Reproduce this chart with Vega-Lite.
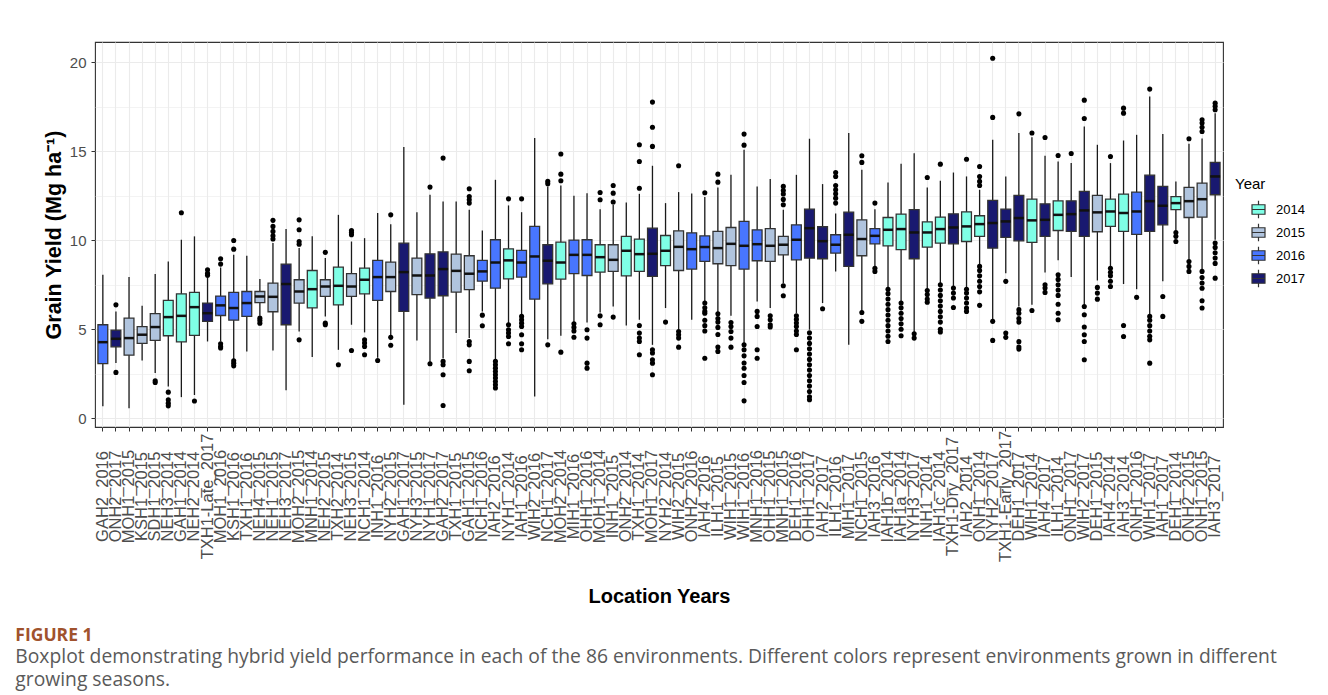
{
"$schema": "https://vega.github.io/schema/vega-lite/v6.json",
"width": 1128, "height": 385,
"padding": {"left": 15, "top": 42, "right": 0, "bottom": 5},
"autosize": {"type": "pad"},
"background": "white",
"config": {
  "font": "Liberation Sans",
  "view": {"stroke": "#333333", "strokeWidth": 1.1},
  "axis": {"domain": false, "gridColor": "#EBEBEB", "tickColor": "#333333", "labelColor": "#4D4D4D", "labelFont": "Liberation Sans", "titleFont": "Liberation Sans", "titleFontWeight": "bold", "titleColor": "#000000"}
},
"title": {"text": "FIGURE 1", "subtitle": ["Boxplot demonstrating hybrid yield performance in each of the 86 environments. Different colors represent environments grown in different", "growing seasons."], "orient": "bottom", "anchor": "start", "frame": "bounds", "offset": 20, "dx": -28, "font": "Open Sans", "fontSize": 17.5, "fontWeight": "bold", "color": "#A0522D", "subtitleFont": "Open Sans", "subtitleFontSize": 19.3, "subtitleColor": "#5A5A5A", "subtitlePadding": 4, "subtitleLineHeight": 23},
"datasets": {
"boxes": [
{"loc":"GAH2_2016","year":"2016","lo":0.66,"q1":3.06,"med":4.27,"q3":5.25,"hi":8.06},
{"loc":"ONH2_2017","year":"2017","lo":3.1,"q1":4.01,"med":4.46,"q3":4.95,"hi":6.0},
{"loc":"MOH1_2015","year":"2015","lo":0.56,"q1":3.54,"med":4.5,"q3":5.62,"hi":7.93},
{"loc":"KSH1_2015","year":"2015","lo":3.24,"q1":4.2,"med":4.69,"q3":5.15,"hi":6.32},
{"loc":"SDH1_2015","year":"2015","lo":2.53,"q1":4.37,"med":5.12,"q3":5.87,"hi":8.1},
{"loc":"NEH3_2014","year":"2014","lo":1.78,"q1":4.63,"med":5.68,"q3":6.62,"hi":8.81},
{"loc":"GAH1_2014","year":"2014","lo":1.18,"q1":4.29,"med":5.75,"q3":6.99,"hi":10.03},
{"loc":"NEH2_2014","year":"2014","lo":1.3,"q1":4.65,"med":6.24,"q3":7.07,"hi":10.22},
{"loc":"TXH1-Late_2017","year":"2017","lo":4.31,"q1":5.44,"med":5.9,"q3":6.47,"hi":7.93},
{"loc":"MOH1_2016","year":"2016","lo":4.31,"q1":5.77,"med":6.34,"q3":6.86,"hi":8.47},
{"loc":"KSH1_2016","year":"2016","lo":3.32,"q1":5.51,"med":6.19,"q3":7.07,"hi":9.18},
{"loc":"TXH1_2016","year":"2016","lo":3.75,"q1":5.72,"med":6.47,"q3":7.12,"hi":9.13},
{"loc":"NEH4_2015","year":"2015","lo":5.75,"q1":6.49,"med":6.84,"q3":7.12,"hi":7.82},
{"loc":"NEH1_2015","year":"2015","lo":3.8,"q1":5.98,"med":6.82,"q3":7.59,"hi":9.84},
{"loc":"NEH3_2017","year":"2017","lo":1.56,"q1":5.25,"med":7.54,"q3":8.66,"hi":10.63},
{"loc":"MOH2_2015","year":"2015","lo":4.87,"q1":6.47,"med":7.12,"q3":7.78,"hi":9.56},
{"loc":"MNH1_2014","year":"2014","lo":3.43,"q1":6.2,"med":7.25,"q3":8.3,"hi":10.22},
{"loc":"NEH2_2015","year":"2015","lo":5.72,"q1":6.84,"med":7.4,"q3":7.78,"hi":9.0},
{"loc":"TXH2_2014","year":"2014","lo":3.84,"q1":6.37,"med":7.44,"q3":8.49,"hi":11.43},
{"loc":"NEH3_2015","year":"2015","lo":5.25,"q1":6.84,"med":7.4,"q3":8.12,"hi":9.93},
{"loc":"NCH1_2014","year":"2014","lo":4.82,"q1":6.99,"med":7.78,"q3":8.43,"hi":10.12},
{"loc":"INH1_2016","year":"2016","lo":3.4,"q1":6.62,"med":7.93,"q3":8.87,"hi":11.53},
{"loc":"NYH2_2015","year":"2015","lo":4.59,"q1":7.12,"med":7.93,"q3":8.77,"hi":10.9},
{"loc":"GAH1_2017","year":"2017","lo":0.75,"q1":6.0,"med":8.21,"q3":9.84,"hi":15.24},
{"loc":"NYH3_2015","year":"2015","lo":4.37,"q1":6.94,"med":8.02,"q3":9.0,"hi":11.58},
{"loc":"NYH1_2017","year":"2017","lo":3.09,"q1":6.75,"med":8.02,"q3":9.24,"hi":12.56},
{"loc":"GAH2_2017","year":"2017","lo":3.37,"q1":6.88,"med":8.38,"q3":9.35,"hi":12.18},
{"loc":"TXH1_2015","year":"2015","lo":4.78,"q1":7.09,"med":8.28,"q3":9.22,"hi":12.18},
{"loc":"GAH1_2015","year":"2015","lo":4.5,"q1":7.22,"med":8.12,"q3":9.13,"hi":11.72},
{"loc":"NCH1_2016","year":"2016","lo":6.0,"q1":7.7,"med":8.25,"q3":8.87,"hi":10.55},
{"loc":"IAH2_2016","year":"2016","lo":3.28,"q1":7.31,"med":8.75,"q3":10.03,"hi":13.4},
{"loc":"NYH1_2014","year":"2014","lo":5.34,"q1":7.83,"med":8.87,"q3":9.52,"hi":11.96},
{"loc":"IAH1_2016","year":"2016","lo":5.81,"q1":7.93,"med":8.75,"q3":9.43,"hi":11.58},
{"loc":"WIH2_2016","year":"2016","lo":1.22,"q1":6.69,"med":9.09,"q3":10.78,"hi":15.75},
{"loc":"NCH1_2017","year":"2017","lo":4.44,"q1":7.55,"med":8.85,"q3":9.75,"hi":13.03},
{"loc":"MOH2_2014","year":"2014","lo":4.63,"q1":7.82,"med":8.75,"q3":9.9,"hi":13.08},
{"loc":"MIH1_2016","year":"2016","lo":5.34,"q1":8.12,"med":9.18,"q3":10.01,"hi":12.5},
{"loc":"OHH1_2016","year":"2016","lo":5.38,"q1":8.02,"med":9.18,"q3":10.03,"hi":12.65},
{"loc":"MOH1_2014","year":"2014","lo":5.94,"q1":8.21,"med":9.05,"q3":9.75,"hi":11.75},
{"loc":"INH1_2015","year":"2015","lo":6.28,"q1":8.25,"med":8.9,"q3":9.75,"hi":12.0},
{"loc":"ONH2_2014","year":"2014","lo":5.21,"q1":8.0,"med":9.41,"q3":10.22,"hi":12.13},
{"loc":"TXH1_2014","year":"2014","lo":5.53,"q1":8.25,"med":9.22,"q3":10.07,"hi":12.61},
{"loc":"MOH1_2017","year":"2017","lo":4.12,"q1":7.97,"med":9.24,"q3":10.68,"hi":14.19},
{"loc":"NYH2_2014","year":"2014","lo":6.19,"q1":8.57,"med":9.41,"q3":10.27,"hi":12.09},
{"loc":"WIH2_2015","year":"2015","lo":5.0,"q1":8.3,"med":9.63,"q3":10.53,"hi":12.71},
{"loc":"ONH2_2016","year":"2016","lo":5.53,"q1":8.38,"med":9.5,"q3":10.42,"hi":12.63},
{"loc":"IAH4_2016","year":"2016","lo":6.56,"q1":8.81,"med":9.62,"q3":10.25,"hi":12.43},
{"loc":"ILH1_2015","year":"2015","lo":5.94,"q1":8.68,"med":9.56,"q3":10.5,"hi":12.97},
{"loc":"WIH1_2015","year":"2015","lo":5.75,"q1":8.57,"med":9.8,"q3":10.72,"hi":13.68},
{"loc":"WIH1_2016","year":"2016","lo":4.18,"q1":8.38,"med":9.69,"q3":11.06,"hi":15.09},
{"loc":"MNH1_2016","year":"2016","lo":6.56,"q1":8.85,"med":9.78,"q3":10.59,"hi":13.03},
{"loc":"OHH1_2015","year":"2015","lo":6.19,"q1":8.81,"med":9.69,"q3":10.65,"hi":13.44},
{"loc":"MNH1_2015","year":"2015","lo":7.59,"q1":9.18,"med":9.75,"q3":10.22,"hi":11.72},
{"loc":"DEH1_2016","year":"2016","lo":5.9,"q1":8.9,"med":10.03,"q3":10.87,"hi":13.68},
{"loc":"OHH1_2017","year":"2017","lo":4.97,"q1":9.0,"med":10.68,"q3":11.75,"hi":15.71},
{"loc":"IAH2_2017","year":"2017","lo":6.47,"q1":8.96,"med":9.95,"q3":10.76,"hi":13.16},
{"loc":"ILH1_2016","year":"2016","lo":8.25,"q1":9.28,"med":9.75,"q3":10.31,"hi":11.5},
{"loc":"MIH1_2017","year":"2017","lo":4.12,"q1":8.53,"med":10.31,"q3":11.58,"hi":16.03},
{"loc":"NCH1_2015","year":"2015","lo":6.0,"q1":9.13,"med":10.07,"q3":11.15,"hi":13.96},
{"loc":"IAH3_2016","year":"2016","lo":8.53,"q1":9.8,"med":10.25,"q3":10.65,"hi":11.75},
{"loc":"IAH1b_2014","year":"2014","lo":7.31,"q1":9.69,"med":10.59,"q3":11.28,"hi":13.25},
{"loc":"IAH1a_2014","year":"2014","lo":6.56,"q1":9.47,"med":10.63,"q3":11.47,"hi":14.3},
{"loc":"NYH3_2017","year":"2017","lo":4.82,"q1":8.96,"med":10.44,"q3":11.72,"hi":14.9},
{"loc":"INH1_2014","year":"2014","lo":7.25,"q1":9.62,"med":10.44,"q3":11.04,"hi":12.97},
{"loc":"IAH1c_2014","year":"2014","lo":7.59,"q1":9.84,"med":10.63,"q3":11.3,"hi":13.35},
{"loc":"TXH1-Dry_2017","year":"2017","lo":7.4,"q1":9.8,"med":10.72,"q3":11.49,"hi":13.81},
{"loc":"IAH2_2014","year":"2014","lo":7.37,"q1":9.93,"med":10.78,"q3":11.6,"hi":13.59},
{"loc":"ONH1_2014","year":"2014","lo":8.62,"q1":10.22,"med":10.91,"q3":11.38,"hi":12.84},
{"loc":"NYH2_2017","year":"2017","lo":5.53,"q1":9.56,"med":10.97,"q3":12.24,"hi":15.65},
{"loc":"TXH1-Early_2017","year":"2017","lo":8.15,"q1":10.16,"med":11.06,"q3":11.75,"hi":13.59},
{"loc":"DEH1_2017","year":"2017","lo":6.28,"q1":9.97,"med":11.25,"q3":12.52,"hi":16.03},
{"loc":"WIH1_2014","year":"2014","lo":6.37,"q1":9.88,"med":11.12,"q3":12.31,"hi":15.8},
{"loc":"IAH4_2017","year":"2017","lo":8.19,"q1":10.22,"med":11.15,"q3":12.05,"hi":14.75},
{"loc":"ILH1_2014","year":"2014","lo":8.87,"q1":10.55,"med":11.43,"q3":12.22,"hi":14.43},
{"loc":"ONH1_2017","year":"2017","lo":7.93,"q1":10.5,"med":11.47,"q3":12.22,"hi":14.34},
{"loc":"WIH2_2017","year":"2017","lo":6.37,"q1":10.22,"med":11.68,"q3":12.75,"hi":16.4},
{"loc":"DEH1_2015","year":"2015","lo":7.74,"q1":10.48,"med":11.57,"q3":12.52,"hi":15.37},
{"loc":"IAH4_2014","year":"2014","lo":8.53,"q1":10.78,"med":11.62,"q3":12.31,"hi":14.34},
{"loc":"IAH3_2014","year":"2014","lo":7.54,"q1":10.5,"med":11.53,"q3":12.6,"hi":15.61},
{"loc":"ONH1_2016","year":"2016","lo":7.25,"q1":10.33,"med":11.62,"q3":12.71,"hi":15.93},
{"loc":"WIH1_2017","year":"2017","lo":5.81,"q1":10.5,"med":12.2,"q3":13.66,"hi":18.09},
{"loc":"IAH1_2017","year":"2017","lo":7.69,"q1":10.87,"med":11.94,"q3":13.03,"hi":15.97},
{"loc":"DEH1_2014","year":"2014","lo":10.53,"q1":11.72,"med":12.09,"q3":12.46,"hi":13.31},
{"loc":"ONH2_2015","year":"2015","lo":8.9,"q1":11.28,"med":12.2,"q3":12.97,"hi":15.43},
{"loc":"ONH1_2015","year":"2015","lo":8.34,"q1":11.3,"med":12.31,"q3":13.21,"hi":15.73},
{"loc":"IAH3_2017","year":"2017","lo":10.03,"q1":12.56,"med":13.59,"q3":14.38,"hi":17.15}
],
"outs": [
{"loc":"ONH2_2017","v":6.37},{"loc":"ONH2_2017","v":2.57},
{"loc":"SDH1_2015","v":2.1},{"loc":"SDH1_2015","v":2.0},
{"loc":"NEH3_2014","v":1.46},{"loc":"NEH3_2014","v":1.03},{"loc":"NEH3_2014","v":0.84},{"loc":"NEH3_2014","v":0.69},
{"loc":"GAH1_2014","v":11.55},
{"loc":"NEH2_2014","v":0.96},
{"loc":"TXH1-Late_2017","v":8.34},{"loc":"TXH1-Late_2017","v":8.15},{"loc":"TXH1-Late_2017","v":8.04},
{"loc":"MOH1_2016","v":8.96},{"loc":"MOH1_2016","v":8.66},{"loc":"MOH1_2016","v":4.18},{"loc":"MOH1_2016","v":4.03},{"loc":"MOH1_2016","v":3.94},
{"loc":"KSH1_2016","v":9.99},{"loc":"KSH1_2016","v":9.5},{"loc":"KSH1_2016","v":3.22},{"loc":"KSH1_2016","v":3.09},{"loc":"KSH1_2016","v":2.94},
{"loc":"NEH4_2015","v":5.62},{"loc":"NEH4_2015","v":5.49},{"loc":"NEH4_2015","v":5.34},
{"loc":"NEH1_2015","v":11.12},{"loc":"NEH1_2015","v":10.78},{"loc":"NEH1_2015","v":10.5},{"loc":"NEH1_2015","v":10.25},{"loc":"NEH1_2015","v":10.07},
{"loc":"MOH2_2015","v":11.15},{"loc":"MOH2_2015","v":10.59},{"loc":"MOH2_2015","v":9.93},{"loc":"MOH2_2015","v":9.78},{"loc":"MOH2_2015","v":4.4},
{"loc":"NEH2_2015","v":9.32},{"loc":"NEH2_2015","v":5.34},{"loc":"NEH2_2015","v":5.25},
{"loc":"TXH2_2014","v":3.0},
{"loc":"NEH3_2015","v":10.55},{"loc":"NEH3_2015","v":10.44},{"loc":"NEH3_2015","v":10.31},{"loc":"NEH3_2015","v":3.8},
{"loc":"NCH1_2014","v":4.4},{"loc":"NCH1_2014","v":4.22},{"loc":"NCH1_2014","v":4.03},{"loc":"NCH1_2014","v":3.56},
{"loc":"INH1_2016","v":3.24},
{"loc":"NYH2_2015","v":11.43},{"loc":"NYH2_2015","v":4.54},{"loc":"NYH2_2015","v":4.1},
{"loc":"NYH1_2017","v":12.99},{"loc":"NYH1_2017","v":3.06},
{"loc":"GAH2_2017","v":14.62},{"loc":"GAH2_2017","v":3.19},{"loc":"GAH2_2017","v":3.0},{"loc":"GAH2_2017","v":2.44},{"loc":"GAH2_2017","v":0.71},
{"loc":"GAH1_2015","v":12.9},{"loc":"GAH1_2015","v":12.46},{"loc":"GAH1_2015","v":12.28},{"loc":"GAH1_2015","v":12.09},{"loc":"GAH1_2015","v":4.31},{"loc":"GAH1_2015","v":4.12},{"loc":"GAH1_2015","v":3.19},{"loc":"GAH1_2015","v":2.66},
{"loc":"NCH1_2016","v":5.79},{"loc":"NCH1_2016","v":5.19},
{"loc":"IAH2_2016","v":3.19},{"loc":"IAH2_2016","v":3.0},{"loc":"IAH2_2016","v":2.81},{"loc":"IAH2_2016","v":2.62},{"loc":"IAH2_2016","v":2.44},{"loc":"IAH2_2016","v":2.25},{"loc":"IAH2_2016","v":2.06},{"loc":"IAH2_2016","v":1.87},{"loc":"IAH2_2016","v":1.69},
{"loc":"NYH1_2014","v":12.33},{"loc":"NYH1_2014","v":5.25},{"loc":"NYH1_2014","v":4.97},{"loc":"NYH1_2014","v":4.78},{"loc":"NYH1_2014","v":4.59},{"loc":"NYH1_2014","v":4.18},
{"loc":"IAH1_2016","v":12.33},{"loc":"IAH1_2016","v":5.72},{"loc":"IAH1_2016","v":5.53},{"loc":"IAH1_2016","v":5.34},{"loc":"IAH1_2016","v":5.15},{"loc":"IAH1_2016","v":4.69},{"loc":"IAH1_2016","v":4.18},{"loc":"IAH1_2016","v":3.84},
{"loc":"NCH1_2017","v":13.31},{"loc":"NCH1_2017","v":13.18},{"loc":"NCH1_2017","v":4.12},
{"loc":"MOH2_2014","v":14.85},{"loc":"MOH2_2014","v":13.72},{"loc":"MOH2_2014","v":13.35},{"loc":"MOH2_2014","v":3.71},
{"loc":"MIH1_2016","v":5.3},{"loc":"MIH1_2016","v":5.1},{"loc":"MIH1_2016","v":4.9},{"loc":"MIH1_2016","v":4.55},
{"loc":"OHH1_2016","v":4.97},{"loc":"OHH1_2016","v":4.5},{"loc":"OHH1_2016","v":3.09},{"loc":"OHH1_2016","v":2.81},
{"loc":"MOH1_2014","v":12.69},{"loc":"MOH1_2014","v":12.28},{"loc":"MOH1_2014","v":5.75},{"loc":"MOH1_2014","v":5.25},
{"loc":"INH1_2015","v":13.08},{"loc":"INH1_2015","v":12.65},{"loc":"INH1_2015","v":12.15},{"loc":"INH1_2015","v":5.68},
{"loc":"TXH1_2014","v":15.37},{"loc":"TXH1_2014","v":14.43},{"loc":"TXH1_2014","v":12.93},{"loc":"TXH1_2014","v":5.21},{"loc":"TXH1_2014","v":4.78},{"loc":"TXH1_2014","v":4.5},{"loc":"TXH1_2014","v":4.31},{"loc":"TXH1_2014","v":3.56},
{"loc":"MOH1_2017","v":17.77},{"loc":"MOH1_2017","v":16.36},{"loc":"MOH1_2017","v":15.28},{"loc":"MOH1_2017","v":3.84},{"loc":"MOH1_2017","v":3.66},{"loc":"MOH1_2017","v":3.28},{"loc":"MOH1_2017","v":3.09},{"loc":"MOH1_2017","v":2.44},
{"loc":"NYH2_2014","v":5.4},
{"loc":"WIH2_2015","v":14.19},{"loc":"WIH2_2015","v":4.87},{"loc":"WIH2_2015","v":4.69},{"loc":"WIH2_2015","v":4.5},{"loc":"WIH2_2015","v":3.99},
{"loc":"IAH4_2016","v":12.67},{"loc":"IAH4_2016","v":6.47},{"loc":"IAH4_2016","v":6.2},{"loc":"IAH4_2016","v":6.0},{"loc":"IAH4_2016","v":5.9},{"loc":"IAH4_2016","v":5.5},{"loc":"IAH4_2016","v":5.2},{"loc":"IAH4_2016","v":4.9},{"loc":"IAH4_2016","v":3.37},
{"loc":"ILH1_2015","v":13.72},{"loc":"ILH1_2015","v":13.27},{"loc":"ILH1_2015","v":5.87},{"loc":"ILH1_2015","v":5.6},{"loc":"ILH1_2015","v":5.4},{"loc":"ILH1_2015","v":5.1},{"loc":"ILH1_2015","v":4.7},{"loc":"ILH1_2015","v":4.0},{"loc":"ILH1_2015","v":3.75},
{"loc":"WIH1_2015","v":5.38},{"loc":"WIH1_2015","v":5.15},{"loc":"WIH1_2015","v":4.87},{"loc":"WIH1_2015","v":4.5},{"loc":"WIH1_2015","v":3.99},
{"loc":"WIH1_2016","v":15.97},{"loc":"WIH1_2016","v":15.35},{"loc":"WIH1_2016","v":4.12},{"loc":"WIH1_2016","v":3.84},{"loc":"WIH1_2016","v":3.5},{"loc":"WIH1_2016","v":3.1},{"loc":"WIH1_2016","v":2.8},{"loc":"WIH1_2016","v":2.4},{"loc":"WIH1_2016","v":2.0},{"loc":"WIH1_2016","v":0.97},
{"loc":"MNH1_2016","v":6.0},{"loc":"MNH1_2016","v":5.72},{"loc":"MNH1_2016","v":5.15},{"loc":"MNH1_2016","v":3.84},{"loc":"MNH1_2016","v":3.37},
{"loc":"OHH1_2015","v":5.75},{"loc":"OHH1_2015","v":5.53},{"loc":"OHH1_2015","v":5.25},{"loc":"OHH1_2015","v":5.12},
{"loc":"MNH1_2015","v":13.03},{"loc":"MNH1_2015","v":12.8},{"loc":"MNH1_2015","v":12.6},{"loc":"MNH1_2015","v":12.3},{"loc":"MNH1_2015","v":12.0},{"loc":"MNH1_2015","v":7.44},{"loc":"MNH1_2015","v":6.88},
{"loc":"DEH1_2016","v":5.75},{"loc":"DEH1_2016","v":5.55},{"loc":"DEH1_2016","v":5.35},{"loc":"DEH1_2016","v":5.15},{"loc":"DEH1_2016","v":4.9},{"loc":"DEH1_2016","v":4.7},{"loc":"DEH1_2016","v":3.84},
{"loc":"OHH1_2017","v":4.8},{"loc":"OHH1_2017","v":4.5},{"loc":"OHH1_2017","v":4.2},{"loc":"OHH1_2017","v":3.9},{"loc":"OHH1_2017","v":3.6},{"loc":"OHH1_2017","v":3.3},{"loc":"OHH1_2017","v":3.0},{"loc":"OHH1_2017","v":2.7},{"loc":"OHH1_2017","v":2.4},{"loc":"OHH1_2017","v":2.1},{"loc":"OHH1_2017","v":1.8},{"loc":"OHH1_2017","v":1.5},{"loc":"OHH1_2017","v":1.2},{"loc":"OHH1_2017","v":1.03},
{"loc":"IAH2_2017","v":6.15},
{"loc":"ILH1_2016","v":13.81},{"loc":"ILH1_2016","v":13.59},{"loc":"ILH1_2016","v":13.08},{"loc":"ILH1_2016","v":12.84},{"loc":"ILH1_2016","v":12.61},{"loc":"ILH1_2016","v":12.37},{"loc":"ILH1_2016","v":12.09},
{"loc":"NCH1_2015","v":14.75},{"loc":"NCH1_2015","v":14.38},{"loc":"NCH1_2015","v":5.94},{"loc":"NCH1_2015","v":5.44},
{"loc":"IAH3_2016","v":12.09},{"loc":"IAH3_2016","v":8.43},{"loc":"IAH3_2016","v":8.25},
{"loc":"IAH1b_2014","v":7.25},{"loc":"IAH1b_2014","v":7.0},{"loc":"IAH1b_2014","v":6.7},{"loc":"IAH1b_2014","v":6.4},{"loc":"IAH1b_2014","v":6.1},{"loc":"IAH1b_2014","v":5.8},{"loc":"IAH1b_2014","v":5.5},{"loc":"IAH1b_2014","v":5.2},{"loc":"IAH1b_2014","v":4.9},{"loc":"IAH1b_2014","v":4.6},{"loc":"IAH1b_2014","v":4.31},
{"loc":"IAH1a_2014","v":6.47},{"loc":"IAH1a_2014","v":6.2},{"loc":"IAH1a_2014","v":5.9},{"loc":"IAH1a_2014","v":5.6},{"loc":"IAH1a_2014","v":5.3},{"loc":"IAH1a_2014","v":5.0},{"loc":"IAH1a_2014","v":4.63},
{"loc":"NYH3_2017","v":4.74},{"loc":"NYH3_2017","v":4.5},
{"loc":"INH1_2014","v":13.53},{"loc":"INH1_2014","v":7.18},{"loc":"INH1_2014","v":6.95},{"loc":"INH1_2014","v":6.7},{"loc":"INH1_2014","v":6.52},
{"loc":"IAH1c_2014","v":14.28},{"loc":"IAH1c_2014","v":7.5},{"loc":"IAH1c_2014","v":7.2},{"loc":"IAH1c_2014","v":6.9},{"loc":"IAH1c_2014","v":6.6},{"loc":"IAH1c_2014","v":6.3},{"loc":"IAH1c_2014","v":6.0},{"loc":"IAH1c_2014","v":5.7},{"loc":"IAH1c_2014","v":5.4},{"loc":"IAH1c_2014","v":5.0},{"loc":"IAH1c_2014","v":4.84},
{"loc":"TXH1-Dry_2017","v":7.31},{"loc":"TXH1-Dry_2017","v":7.03},{"loc":"TXH1-Dry_2017","v":6.75},{"loc":"TXH1-Dry_2017","v":6.22},
{"loc":"IAH2_2014","v":14.56},{"loc":"IAH2_2014","v":7.25},{"loc":"IAH2_2014","v":7.03},{"loc":"IAH2_2014","v":6.75},{"loc":"IAH2_2014","v":6.47},{"loc":"IAH2_2014","v":6.19},{"loc":"IAH2_2014","v":6.0},
{"loc":"ONH1_2014","v":14.15},{"loc":"ONH1_2014","v":13.59},{"loc":"ONH1_2014","v":13.31},{"loc":"ONH1_2014","v":13.08},{"loc":"ONH1_2014","v":8.53},{"loc":"ONH1_2014","v":8.3},{"loc":"ONH1_2014","v":8.0},{"loc":"ONH1_2014","v":7.7},{"loc":"ONH1_2014","v":7.4},{"loc":"ONH1_2014","v":7.1},{"loc":"ONH1_2014","v":6.34},
{"loc":"NYH2_2017","v":20.24},{"loc":"NYH2_2017","v":16.91},{"loc":"NYH2_2017","v":5.44},{"loc":"NYH2_2017","v":4.37},
{"loc":"TXH1-Early_2017","v":7.69},{"loc":"TXH1-Early_2017","v":4.78},{"loc":"TXH1-Early_2017","v":4.54},
{"loc":"DEH1_2017","v":17.11},{"loc":"DEH1_2017","v":6.1},{"loc":"DEH1_2017","v":5.9},{"loc":"DEH1_2017","v":5.6},{"loc":"DEH1_2017","v":5.4},{"loc":"DEH1_2017","v":4.3},{"loc":"DEH1_2017","v":4.0},{"loc":"DEH1_2017","v":3.88},
{"loc":"WIH1_2014","v":16.03},{"loc":"WIH1_2014","v":6.05},
{"loc":"IAH4_2017","v":15.78},{"loc":"IAH4_2017","v":7.5},{"loc":"IAH4_2017","v":7.31},{"loc":"IAH4_2017","v":7.07},
{"loc":"ILH1_2014","v":14.77},{"loc":"ILH1_2014","v":8.06},{"loc":"ILH1_2014","v":7.8},{"loc":"ILH1_2014","v":7.5},{"loc":"ILH1_2014","v":7.2},{"loc":"ILH1_2014","v":6.9},{"loc":"ILH1_2014","v":6.4},{"loc":"ILH1_2014","v":5.9},{"loc":"ILH1_2014","v":5.53},
{"loc":"ONH1_2017","v":14.88},
{"loc":"WIH2_2017","v":17.88},{"loc":"WIH2_2017","v":16.85},{"loc":"WIH2_2017","v":6.28},{"loc":"WIH2_2017","v":5.81},{"loc":"WIH2_2017","v":5.12},{"loc":"WIH2_2017","v":4.69},{"loc":"WIH2_2017","v":4.31},{"loc":"WIH2_2017","v":3.28},
{"loc":"DEH1_2015","v":7.35},{"loc":"DEH1_2015","v":7.03},{"loc":"DEH1_2015","v":6.69},
{"loc":"IAH4_2014","v":14.71},{"loc":"IAH4_2014","v":8.43},{"loc":"IAH4_2014","v":8.2},{"loc":"IAH4_2014","v":8.0},{"loc":"IAH4_2014","v":7.7},{"loc":"IAH4_2014","v":7.4},
{"loc":"IAH3_2014","v":17.43},{"loc":"IAH3_2014","v":17.15},{"loc":"IAH3_2014","v":5.21},{"loc":"IAH3_2014","v":4.59},
{"loc":"ONH1_2016","v":6.79},
{"loc":"WIH1_2017","v":18.5},{"loc":"WIH1_2017","v":5.72},{"loc":"WIH1_2017","v":5.5},{"loc":"WIH1_2017","v":5.2},{"loc":"WIH1_2017","v":4.9},{"loc":"WIH1_2017","v":4.6},{"loc":"WIH1_2017","v":4.4},{"loc":"WIH1_2017","v":3.09},
{"loc":"IAH1_2017","v":6.84},{"loc":"IAH1_2017","v":5.72},
{"loc":"DEH1_2014","v":10.44},{"loc":"DEH1_2014","v":10.22},{"loc":"DEH1_2014","v":9.93},
{"loc":"ONH2_2015","v":15.71},{"loc":"ONH2_2015","v":8.81},{"loc":"ONH2_2015","v":8.53},{"loc":"ONH2_2015","v":8.25},
{"loc":"ONH1_2015","v":16.78},{"loc":"ONH1_2015","v":16.59},{"loc":"ONH1_2015","v":16.36},{"loc":"ONH1_2015","v":16.12},{"loc":"ONH1_2015","v":8.25},{"loc":"ONH1_2015","v":7.9},{"loc":"ONH1_2015","v":7.6},{"loc":"ONH1_2015","v":7.3},{"loc":"ONH1_2015","v":6.6},{"loc":"ONH1_2015","v":6.19},
{"loc":"IAH3_2017","v":17.71},{"loc":"IAH3_2017","v":17.53},{"loc":"IAH3_2017","v":17.34},{"loc":"IAH3_2017","v":9.84},{"loc":"IAH3_2017","v":9.6},{"loc":"IAH3_2017","v":9.3},{"loc":"IAH3_2017","v":9.0},{"loc":"IAH3_2017","v":8.7},{"loc":"IAH3_2017","v":7.87}
]
},
"layer": [
{"data": {"name": "boxes"},
 "mark": {"type": "rule", "color": "#1a1a1a", "strokeWidth": 1.3},
 "encoding": {
  "x": {"field": "loc", "type": "nominal",
    "scale": {"type": "band", "paddingInner": 0, "paddingOuter": 0.1, "domain": ["GAH2_2016","ONH2_2017","MOH1_2015","KSH1_2015","SDH1_2015","NEH3_2014","GAH1_2014","NEH2_2014","TXH1-Late_2017","MOH1_2016","KSH1_2016","TXH1_2016","NEH4_2015","NEH1_2015","NEH3_2017","MOH2_2015","MNH1_2014","NEH2_2015","TXH2_2014","NEH3_2015","NCH1_2014","INH1_2016","NYH2_2015","GAH1_2017","NYH3_2015","NYH1_2017","GAH2_2017","TXH1_2015","GAH1_2015","NCH1_2016","IAH2_2016","NYH1_2014","IAH1_2016","WIH2_2016","NCH1_2017","MOH2_2014","MIH1_2016","OHH1_2016","MOH1_2014","INH1_2015","ONH2_2014","TXH1_2014","MOH1_2017","NYH2_2014","WIH2_2015","ONH2_2016","IAH4_2016","ILH1_2015","WIH1_2015","WIH1_2016","MNH1_2016","OHH1_2015","MNH1_2015","DEH1_2016","OHH1_2017","IAH2_2017","ILH1_2016","MIH1_2017","NCH1_2015","IAH3_2016","IAH1b_2014","IAH1a_2014","NYH3_2017","INH1_2014","IAH1c_2014","TXH1-Dry_2017","IAH2_2014","ONH1_2014","NYH2_2017","TXH1-Early_2017","DEH1_2017","WIH1_2014","IAH4_2017","ILH1_2014","ONH1_2017","WIH2_2017","DEH1_2015","IAH4_2014","IAH3_2014","ONH1_2016","WIH1_2017","IAH1_2017","DEH1_2014","ONH2_2015","ONH1_2015","IAH3_2017"]},
    "axis": {"title": "Location Years", "labelAngle": -90, "labelAlign": "center", "labelBaseline": "middle", "labelPadding": 65, "labelFontSize": 16.5, "labelOverlap": false, "tickSize": 4, "bandPosition": 0.5, "grid": true, "gridWidth": 1.1, "titleFontSize": 20, "titlePadding": 25}},
  "y": {"field": "lo", "type": "quantitative",
    "scale": {"domain": [-0.5, 21.15], "nice": false, "zero": false},
    "axis": {"title": "Grain Yield (Mg ha⁻¹)", "values": [0,2.5,5,7.5,10,12.5,15,17.5,20], "labelExpr": "datum.value % 5 === 0 ? format(datum.value, 'd') : ''", "gridWidth": {"condition": {"test": "datum.value % 5 === 0", "value": 1.2}, "value": 0.6}, "tickOpacity": {"condition": {"test": "datum.value % 5 === 0", "value": 1}, "value": 0}, "tickSize": 4, "labelFontSize": 15, "labelPadding": 5, "titleFontSize": 21.5, "titlePadding": 4}},
  "y2": {"field": "hi"}
 }},
{"data": {"name": "boxes"},
 "mark": {"type": "bar", "width": {"band": 0.75}, "stroke": "#333333", "strokeWidth": 1.3},
 "encoding": {
  "x": {"field": "loc", "type": "nominal"},
  "y": {"field": "q1", "type": "quantitative"},
  "y2": {"field": "q3"},
  "fill": {"field": "year", "type": "nominal",
    "scale": {"domain": ["2014","2015","2016","2017"], "range": ["#7FFFE6","#B0C4DE","#4876FF","#191970"]},
    "legend": {"title": "Year", "orient": "none", "legendX": 1140, "legendY": 135, "titleFontSize": 15, "titleFontWeight": "normal", "titleColor": "#000000", "labelFontSize": 13, "labelColor": "#000000", "symbolType": "M-0.75,-0.55H0.75V0.55H-0.75Z M-0.75,0H0.75 M0,-0.55V-1 M0,0.55V1", "symbolSize": 300, "symbolStrokeColor": "#333333", "symbolStrokeWidth": 1.2, "symbolOpacity": 1, "symbolOffset": 14, "rowPadding": 0, "titlePadding": 8, "labelOffset": 8}}
 }},
{"data": {"name": "boxes"},
 "mark": {"type": "tick", "color": "#111111", "thickness": 2.5, "size": 10, "opacity": 1},
 "encoding": {
  "x": {"field": "loc", "type": "nominal"},
  "y": {"field": "med", "type": "quantitative"}
 }},
{"data": {"name": "outs"},
 "mark": {"type": "circle", "color": "#000000", "opacity": 1, "size": 26},
 "encoding": {
  "x": {"field": "loc", "type": "nominal"},
  "y": {"field": "v", "type": "quantitative"}
 }}
]
}
